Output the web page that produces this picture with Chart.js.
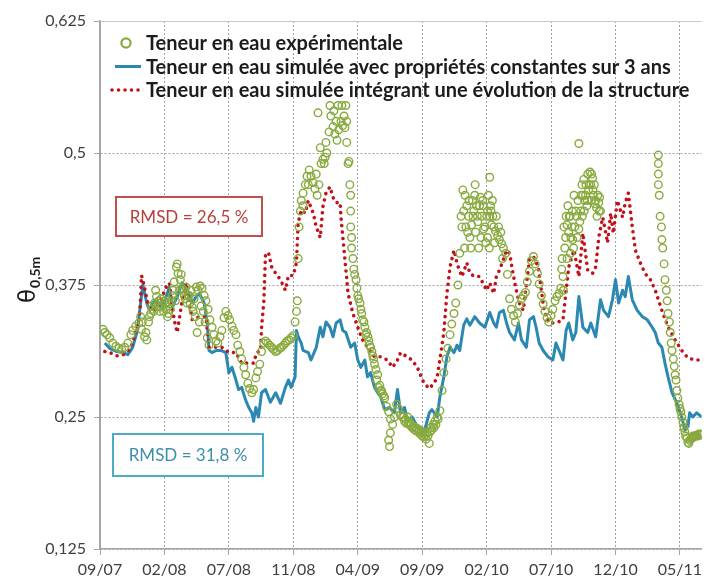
<!DOCTYPE html>
<html>
<head>
<meta charset="utf-8">
<title>Teneur en eau à 0,5 m</title>
<script src="https://cdn.jsdelivr.net/npm/chart.js@4.4.1/dist/chart.umd.min.js"></script>
<style>
  html, body { margin: 0; padding: 0; background: #fff; }
  #wrap { width: 707px; height: 581px; }
</style>
</head>
<body>
<div id="wrap"><canvas id="chart" width="707" height="581"></canvas></div>
<script>
// x values are days counted from the first date label (09/07)
const tickDays = [0, 146, 292, 438, 584, 730, 876, 1022, 1168, 1314];
const tickLabels = ['09/07', '02/08', '07/08', '11/08', '04/09', '09/09', '02/10', '07/10', '12/10', '05/11'];
const lastDay = 1363;

const seriesLabels = [
  'Teneur en eau expérimentale',
  'Teneur en eau simulée avec propriétés constantes sur 3 ans',
  'Teneur en eau simulée intégrant une évolution de la structure'
];
const rmsdTexts = ['RMSD = 26,5 %', 'RMSD = 31,8 %'];

// measured water content at 0.5 m
const expDays = [
  7, 11, 16, 22, 29, 36, 43, 49, 56, 63,
  70, 74, 81, 88, 94, 101, 106, 110, 115, 119,
  124, 128, 133, 137, 141, 146, 150, 155, 159, 164,
  168, 173, 177, 182, 186, 191, 195, 200, 204, 209,
  213, 218, 222, 227, 231, 236, 240, 245, 249, 254,
  258, 263, 267, 272, 276, 281, 285, 290, 294, 299,
  303, 308, 312, 317, 321, 326, 330, 335, 339, 344,
  348, 353, 357, 362, 366, 371, 375, 380, 384, 389,
  393, 398, 402, 407, 411, 416, 420, 424, 429, 433,
  438, 442, 445, 447, 449, 451, 454, 456, 460, 465,
  469, 474, 478, 483, 487, 492, 496, 501, 505, 510,
  514, 519, 523, 528, 532, 537, 541, 546, 550, 555,
  559, 564, 568, 570, 573, 577, 582, 586, 591, 595,
  600, 604, 609, 613, 618, 622, 627, 631, 636, 640,
  645, 649, 654, 658, 663, 667, 672, 676, 681, 685,
  690, 694, 699, 703, 707, 712, 716, 721, 725, 730,
  734, 739, 743, 748, 752, 757, 761, 766, 770, 775,
  779, 784, 788, 793, 797, 802, 806, 811, 815, 820,
  824, 829, 833, 838, 842, 847, 851, 856, 860, 865,
  869, 874, 878, 883, 887, 892, 896, 901, 905, 910,
  914, 919, 923, 928, 932, 937, 941, 946, 950, 955,
  959, 964, 968, 973, 977, 982, 986, 991, 995, 1000,
  1004, 1008, 1013, 1017, 1022, 1026, 1031, 1035, 1040, 1044,
  1049, 1053, 1058, 1062, 1067, 1071, 1076, 1080, 1085, 1089,
  1094, 1098, 1103, 1107, 1112, 1116, 1121, 1125, 1130, 1134,
  1265, 1273, 1278, 1283, 1287, 1292, 1296, 1301, 1305, 1309,
  1314, 1318, 1323, 1327, 1332, 1336, 1341, 1345, 1350, 1354,
  1359, 1363,
  // scattered readings
  92, 175, 460, 472, 490, 494, 499, 508, 512, 521,
  530, 535, 539, 548, 553, 557, 559, 562, 566, 568,
  568, 570, 575, 654, 656, 658, 732, 746, 822, 827,
  836, 844, 849, 853, 862, 867, 876, 880, 883, 885,
  889, 1047, 1051, 1056, 1060, 1065, 1069, 1074, 1083, 1085,
  1092, 1096, 1101, 1105, 1110, 1114, 1118, 1123, 1128, 1132,
  1265, 1265, 1265, 1267, 1269, 1272,
  // second sensor readings in the dense periods
  96, 104, 112, 117, 122, 126, 131, 135, 139, 144,
  148, 153, 157, 162, 166, 171, 180, 184, 189, 193,
  197, 202, 206, 211, 216, 220, 225, 229, 234, 238,
  243, 247, 580, 584, 589, 593, 598, 602, 607, 611,
  616, 620, 625, 629, 634, 638, 643, 688, 692, 697,
  701, 705, 710, 714, 719, 723, 728, 737, 741, 750,
  755, 759, 764, 818, 826, 831, 835, 840, 845, 850,
  855, 858, 863, 868, 872, 878, 882, 886, 890, 894,
  898, 903, 908, 912, 1046, 1050, 1055, 1058, 1063, 1066,
  1070, 1073, 1078, 1081, 1087, 1090, 1093, 1097, 1100, 1104,
  1108, 1113, 1117, 1120, 1126, 1131, 1275, 1280, 1285, 1290,
  1294, 1299, 1303, 1307, 1312, 1316, 1321, 1325, 1330, 1334,
  1339, 1343, 1348, 1352, 1357, 1361
];
const expVals = [
  .333, .330, .328, .325, .320, .317, .315, .314, .316, .320,
  .328, .332, .336, .339, .333, .326, .323, .340, .348, .352,
  .358, .364, .360, .354, .356, .360, .352, .348, .352, .365,
  .378, .392, .386, .380, .372, .365, .373, .365, .358, .354,
  .362, .373, .370, .374, .372, .365, .360, .352, .342, .335,
  .328, .322, .320, .326, .332, .344, .350, .346, .342, .336,
  .332, .328, .318, .312, .305, .297, .290, .282, .277, .273,
  .276, .287, .293, .300, .312, .320, .322, .320, .318, .316,
  .314, .312, .313, .315, .316, .318, .320, .322, .323, .325,
  .327, .340, .350, .360, .400, .430, .445, .455, .462, .470,
  .478, .484, .478, .472, .466, .460, .470, .490, .494, .496,
  .500, .520, .535, .525, .518, .512, .522, .530, .526, .524,
  .530, .492, .445, .420, .400, .385, .372, .362, .352, .342,
  .335, .330, .322, .316, .308, .300, .285, .278, .275, .272,
  .268, .260, .255, .248, .243, .250, .262, .258, .252, .250,
  .246, .244, .244, .242, .240, .238, .237, .236, .234, .232,
  .231, .229, .232, .236, .238, .240, .243, .248, .256, .275,
  .292, .305, .315, .328, .338, .348, .358, .375, .405, .430,
  .445, .430, .425, .420, .432, .445, .425, .435, .450, .440,
  .428, .415, .420, .440, .432, .430, .426, .422, .418, .414,
  .410, .405, .385, .362, .352, .346, .340, .348, .356, .362,
  .365, .368, .378, .388, .398, .402, .395, .386, .376, .365,
  .357, .350, .344, .340, .346, .352, .360, .364, .367, .372,
  .383, .410, .432, .425, .420, .418, .430, .440, .428, .445,
  .460, .455, .450, .465, .470, .476, .452, .448, .453, .445,
  .470, .418, .395, .370, .348, .330, .313, .298, .285, .268,
  .258, .250, .240, .232, .226, .228, .230, .231, .232, .232,
  .233, .233,
  .345, .395, .450, .470, .480, .538, .505, .490, .510, .545,
  .540, .530, .545, .545, .535, .545, .510, .490, .470, .460,
  .430, .410, .390, .228, .222, .235, .236, .225, .465, .460,
  .455, .455, .460, .450, .458, .455, .440, .460, .477, .450,
  .455, .400, .430, .440, .450, .440, .430, .460, .455, .509,
  .470, .475, .470, .480, .482, .480, .460, .455, .460, .458,
  .498, .490, .480, .460, .440, .430,
  .340, .330, .345, .355, .350, .370, .355, .350, .362, .350,
  .358, .345, .357, .360, .370, .360, .370, .385, .370, .362,
  .358, .365, .370, .350, .345, .330, .340, .355, .350, .340,
  .325, .318, .380, .365, .358, .348, .340, .328, .326, .318,
  .312, .305, .295, .290, .280, .275, .270, .250, .248, .250,
  .245, .243, .241, .240, .239, .238, .236, .233, .235, .240,
  .243, .246, .250, .440, .410, .450, .440, .410, .440, .470,
  .440, .410, .420, .450, .430, .445, .410, .445, .440, .415,
  .440, .430, .425, .400, .390, .370, .420, .400, .440, .405,
  .445, .410, .445, .420, .435, .460, .440, .445, .460, .455,
  .470, .455, .465, .470, .440, .445, .410, .380, .360, .340,
  .320, .305, .290, .275, .262, .255, .245, .236, .230, .225,
  .229, .232, .232, .233, .234, .234
];

// simulation with constant soil properties over 3 years
const simConstDays = [
  11, 22, 38, 52, 63, 74, 85, 90, 97, 106,
  112, 119, 128, 139, 150, 157, 164, 175, 186, 198,
  209, 218, 225, 236, 243, 247, 254, 263, 274, 285,
  292, 299, 308, 314, 321, 330, 337, 344, 348, 353,
  359, 366, 375, 386, 398, 409, 420, 427, 433, 442,
  445, 449, 456, 460, 472, 478, 490, 499, 505, 512,
  521, 528, 535, 544, 550, 557, 568, 577, 584, 591,
  600, 606, 613, 622, 629, 636, 645, 656, 667, 674,
  681, 690, 696, 707, 719, 734, 746, 752, 764, 770,
  779, 786, 793, 802, 809, 815, 824, 831, 838, 849,
  860, 872, 883, 892, 898, 905, 914, 921, 928, 939,
  948, 955, 966, 973, 982, 988, 995, 1004, 1015, 1026,
  1033, 1040, 1049, 1056, 1062, 1071, 1078, 1085, 1094, 1105,
  1112, 1123, 1134, 1141, 1152, 1161, 1168, 1175, 1184, 1190,
  1197, 1206, 1217, 1229, 1240, 1251, 1258, 1265, 1273, 1280,
  1287, 1296, 1307, 1318, 1325, 1332, 1336, 1343, 1352, 1363
];
const simConstVals = [
  .320, .315, .312, .311, .309, .316, .332, .351, .375, .358,
  .351, .358, .361, .353, .364, .373, .354, .364, .377, .370,
  .358, .364, .367, .358, .339, .313, .311, .313, .313, .311,
  .292, .297, .285, .276, .278, .266, .259, .254, .246, .259,
  .250, .273, .276, .264, .273, .263, .278, .285, .278, .288,
  .332, .326, .320, .313, .311, .304, .316, .335, .326, .340,
  .335, .326, .339, .342, .332, .330, .316, .320, .304, .297,
  .304, .288, .292, .278, .273, .269, .257, .259, .254, .276,
  .254, .259, .247, .250, .241, .235, .254, .257, .250, .269,
  .288, .307, .316, .311, .318, .313, .337, .343, .337, .345,
  .339, .335, .349, .339, .335, .349, .351, .339, .330, .323,
  .339, .323, .316, .342, .345, .335, .320, .313, .307, .304,
  .320, .313, .304, .332, .339, .323, .330, .364, .335, .330,
  .339, .326, .361, .351, .345, .361, .380, .358, .370, .364,
  .383, .361, .351, .345, .342, .335, .330, .320, .316, .301,
  .288, .273, .263, .250, .238, .241, .254, .250, .254, .250
];

// simulation including the change of soil structure
const simEvolDays = [
  11, 22, 38, 52, 63, 74, 90, 94, 97, 108,
  117, 128, 139, 150, 157, 168, 175, 186, 195, 209,
  225, 240, 247, 263, 276, 292, 308, 321, 337, 348,
  355, 364, 366, 371, 375, 382, 389, 398, 409, 420,
  427, 438, 445, 449, 456, 465, 472, 483, 490, 499,
  505, 512, 521, 528, 535, 544, 546, 555, 562, 573,
  584, 595, 606, 622, 636, 651, 663, 674, 681, 696,
  707, 719, 734, 746, 757, 764, 770, 779, 786, 793,
  802, 809, 820, 831, 838, 849, 860, 876, 883, 892,
  898, 905, 914, 921, 928, 937, 943, 950, 959, 973,
  982, 993, 1000, 1006, 1017, 1033, 1049, 1056, 1062, 1074,
  1085, 1094, 1105, 1116, 1123, 1130, 1139, 1150, 1157, 1163,
  1172, 1184, 1190, 1197, 1206, 1213, 1224, 1235, 1247, 1258,
  1273, 1287, 1303, 1318, 1332, 1348, 1363
];
const simEvolVals = [
  .312, .311, .308, .309, .312, .320, .345, .384, .380, .358,
  .350, .354, .362, .373, .377, .342, .330, .360, .377, .342,
  .345, .345, .316, .316, .316, .311, .311, .301, .301, .301,
  .311, .313, .335, .358, .405, .405, .392, .386, .380, .370,
  .384, .384, .396, .434, .446, .443, .455, .443, .430, .420,
  .449, .462, .468, .458, .453, .453, .439, .399, .367, .348,
  .335, .323, .316, .307, .307, .304, .297, .304, .311, .307,
  .304, .297, .282, .277, .282, .288, .304, .330, .367, .392,
  .408, .395, .383, .396, .386, .383, .383, .370, .377, .367,
  .383, .389, .399, .408, .405, .383, .370, .358, .351, .399,
  .402, .392, .370, .351, .339, .339, .342, .370, .392, .408,
  .383, .424, .389, .386, .392, .420, .439, .415, .443, .424,
  .455, .439, .453, .462, .430, .408, .396, .386, .380, .370,
  .351, .335, .323, .313, .306, .304, .304
];

const GREEN = '#88aa3e';
const BLUE = '#2a88b2';
const RED = '#c1121c';
const AXIS = '#a6a6a6';
const GRID = '#a0a0a0';
const TEXT = '#404040';
const FONT = 'Lato, "DejaVu Sans", sans-serif';

const toPoints = (days, vals) => days.map((d, i) => ({ x: d, y: vals[i] }));
const fmt = v => String(+v.toFixed(3)).replace('.', ',');

// legend drawn inside the plot area, top left
const plotLegend = {
  id: 'plotLegend',
  afterDatasetsDraw(chart) {
    const ctx = chart.ctx;
    const left = chart.chartArea.left;
    const textX = left + 46;
    ctx.save();
    ctx.font = 'bold 20px ' + FONT;
    ctx.textBaseline = 'middle';
    chart.data.datasets.forEach((ds, i) => {
      const y = 43 + i * 23.5;
      ctx.save();
      if (ds.showLine === false) {
        ctx.strokeStyle = ds.pointBorderColor;
        ctx.lineWidth = 2.2;
        ctx.beginPath();
        ctx.arc(left + 26, y, 4.6, 0, Math.PI * 2);
        ctx.stroke();
      } else {
        ctx.strokeStyle = ds.borderColor;
        ctx.lineWidth = ds.borderWidth;
        ctx.lineCap = ds.borderCapStyle || 'butt';
        ctx.setLineDash(ds.borderDash || []);
        ctx.beginPath();
        ctx.moveTo(left + (ds.borderDash ? 12 : 15), y);
        ctx.lineTo(left + 41, y);
        ctx.stroke();
      }
      ctx.restore();
      ctx.fillStyle = '#1c1c1c';
      ctx.fillText(ds.label, textX, y + 1);
    });
    ctx.restore();
  }
};

// RMSD boxes and the y axis title
const plotNotes = {
  id: 'plotNotes',
  afterDraw(chart) {
    const ctx = chart.ctx;
    const boxes = [
      { x: 116, y: 197, w: 146, h: 39, line: '#c0504d', text: '#b5403c', label: rmsdTexts[0] },
      { x: 113, y: 434, w: 150, h: 42, line: '#4bacc6', text: '#3d8fa8', label: rmsdTexts[1] }
    ];
    ctx.save();
    boxes.forEach(b => {
      ctx.fillStyle = '#fff';
      ctx.fillRect(b.x, b.y, b.w, b.h);
      ctx.strokeStyle = b.line;
      ctx.lineWidth = 2;
      ctx.strokeRect(b.x, b.y, b.w, b.h);
      ctx.fillStyle = b.text;
      ctx.font = '17px ' + FONT;
      ctx.textAlign = 'center';
      ctx.textBaseline = 'middle';
      ctx.fillText(b.label, b.x + b.w / 2, b.y + b.h / 2 + 1);
    });

    ctx.translate(35, 303);
    ctx.rotate(-Math.PI / 2);
    ctx.fillStyle = '#1c1c1c';
    ctx.textAlign = 'left';
    ctx.textBaseline = 'alphabetic';
    ctx.font = '23px "DejaVu Sans", sans-serif';
    ctx.fillText('θ', 0, 0);
    const w = ctx.measureText('θ').width;
    ctx.font = 'bold 14px ' + FONT;
    ctx.fillText('0,5m', w + 1, 5);
    ctx.restore();
  }
};

new Chart(document.getElementById('chart'), {
  type: 'line',
  data: {
    datasets: [
      {
        label: seriesLabels[0],
        data: toPoints(expDays, expVals),
        showLine: false,
        pointStyle: 'circle',
        pointRadius: 3.8,
        pointBorderWidth: 1.4,
        pointBorderColor: GREEN,
        pointBackgroundColor: 'rgba(255,255,255,0)',
        order: 0
      },
      {
        label: seriesLabels[1],
        data: toPoints(simConstDays, simConstVals),
        borderColor: BLUE,
        borderWidth: 3,
        borderJoinStyle: 'round',
        pointRadius: 0,
        tension: 0,
        order: 2
      },
      {
        label: seriesLabels[2],
        data: toPoints(simEvolDays, simEvolVals),
        borderColor: RED,
        borderWidth: 3.6,
        borderDash: [0.01, 6.5],
        borderCapStyle: 'round',
        pointRadius: 0,
        tension: 0,
        order: 1
      }
    ]
  },
  options: {
    responsive: false,
    animation: false,
    events: [],
    layout: { padding: { top: 21, right: 0, bottom: 0, left: 0 } },
    plugins: {
      legend: { display: false },
      tooltip: { enabled: false }
    },
    scales: {
      x: {
        type: 'linear',
        min: 0,
        max: lastDay,
        afterBuildTicks: s => { s.ticks = tickDays.map(v => ({ value: v })); },
        afterFit: s => { s.height = 32; s.paddingLeft = 0; s.paddingRight = 0; },
        ticks: {
          autoSkip: false,
          maxRotation: 0,
          padding: 5,
          color: TEXT,
          font: { family: FONT, size: 16 },
          callback: (v, i) => tickLabels[i]
        },
        grid: { color: GRID, lineWidth: 1, tickLength: 6, tickColor: AXIS },
        border: {
          color: AXIS,
          width: 1.5,
          dash: c => (c.tick && c.tick.value === 0 ? [] : [2, 2])
        }
      },
      y: {
        min: 0.125,
        max: 0.625,
        afterFit: s => { s.width = 100; },
        ticks: {
          stepSize: 0.125,
          padding: 8,
          color: TEXT,
          font: { family: FONT, size: 16 },
          callback: v => fmt(v)
        },
        grid: {
          color: c => (c.tick && c.tick.value >= 0.625 ? '#c8c8c8' : GRID),
          lineWidth: 1,
          tickLength: 6,
          tickColor: AXIS
        },
        border: {
          color: AXIS,
          width: 1.5,
          dash: c => (c.tick && c.tick.value >= 0.625 ? [] : [2, 2])
        }
      }
    }
  },
  plugins: [plotLegend, plotNotes]
});
</script>
</body>
</html>
